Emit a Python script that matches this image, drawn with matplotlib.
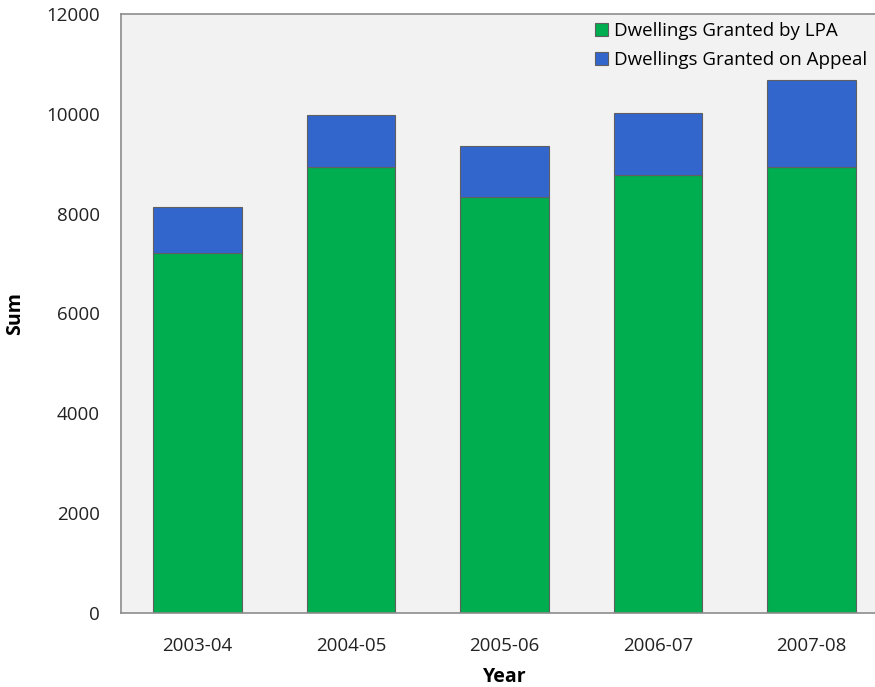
import matplotlib.pyplot as plt
import numpy as np

# data
years = ['2003-04', '2004-05', '2005-06', '2006-07', '2007-08']
lpa = [7210, 8930, 8330, 8770, 8930]
appeal = [920, 1040, 1020, 1250, 1750]

plt.rcParams['font.family'] = ['Open Sans', 'DejaVu Sans']

fig = plt.figure(figsize=(8.75, 6.87), dpi=100)
ax = fig.add_axes([0.138, 0.1077, 0.877, 0.872])
ax.set_facecolor('#F2F2F2')

x = np.arange(len(years))
ax.bar(x, lpa, width=0.575, color='#00AD4F', edgecolor='#606060', linewidth=0.8,
       label='Dwellings Granted by LPA')
ax.bar(x, appeal, width=0.575, bottom=lpa, color='#3366CC', edgecolor='#606060', linewidth=0.8,
       label='Dwellings Granted on Appeal')

ax.set_xlim(-0.5, 4.5)
ax.set_ylim(0, 12000)
ax.set_yticks(range(0, 12001, 2000))
ax.set_xticks(x)
ax.set_xticklabels(years)
ax.tick_params(length=0, labelsize=13.5, colors='#222222')
ax.tick_params(axis='x', pad=17)
ax.tick_params(axis='y', pad=15)

for s in ax.spines.values():
    s.set_color('#8C8C8C')
    s.set_linewidth(1.2)

ax.set_xlabel('Year', fontsize=14, fontweight='bold', labelpad=9)
ax.set_ylabel('Sum', fontsize=14, fontweight='bold', labelpad=15)

leg = ax.legend(loc='upper right', bbox_to_anchor=(0.995, 1.015), frameon=False, fontsize=13.5,
                handlelength=0.7, handleheight=0.7, handletextpad=0.35, labelspacing=0.6)

fig.savefig('out.png')
